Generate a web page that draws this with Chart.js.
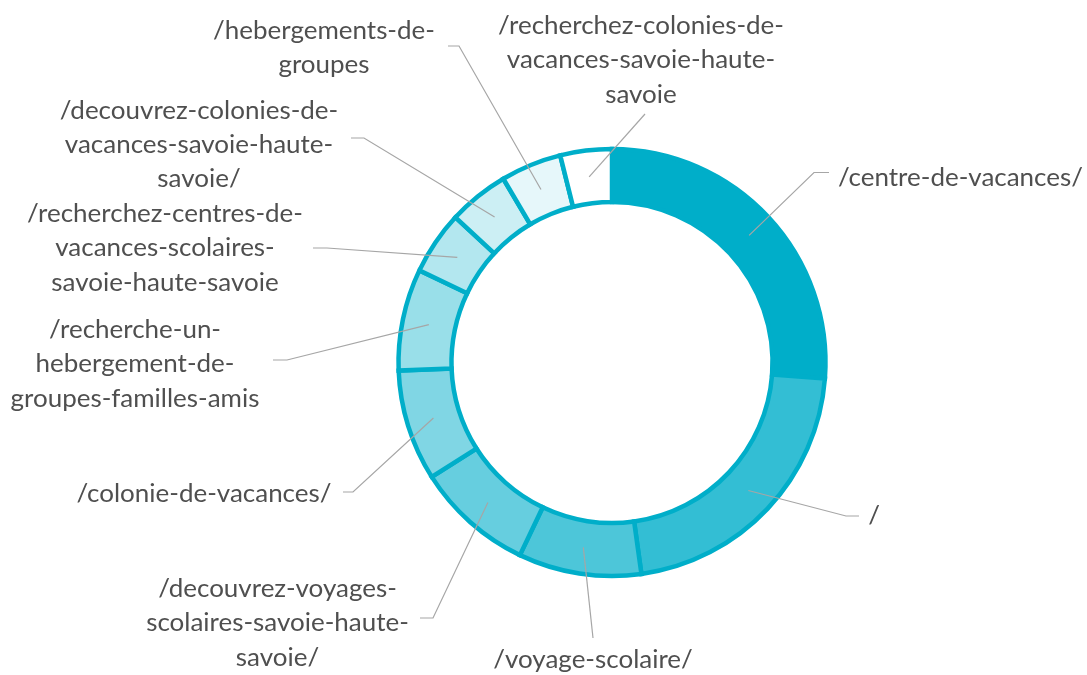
<!DOCTYPE html>
<html>
<head>
<meta charset="utf-8">
<script src="https://cdn.jsdelivr.net/npm/chart.js@4"></script>
<style>
  html, body { margin: 0; padding: 0; background: #ffffff; }
  canvas { display: block; }
</style>
</head>
<body>
<canvas id="c" width="1087" height="675"></canvas>
<script>
// ---- data ----
const categories = [
  "/centre-de-vacances/",
  "/",
  "/voyage-scolaire/",
  "/decouvrez-voyages-scolaires-savoie-haute-savoie/",
  "/colonie-de-vacances/",
  "/recherche-un-hebergement-de-groupes-familles-amis",
  "/recherchez-centres-de-vacances-scolaires-savoie-haute-savoie",
  "/decouvrez-colonies-de-vacances-savoie-haute-savoie/",
  "/hebergements-de-groupes",
  "/recherchez-colonies-de-vacances-savoie-haute-savoie"
];
const values = [26.2, 21.6, 9.3, 8.9, 8.4, 7.7, 4.8, 4.6, 4.6, 3.9];

// ---- styles ----
const fillColors = ['#00AEC9','#33BED4','#4DC6D9','#66CEDF','#80D6E4','#99DFE9','#B3E7EF','#CCEFF4','#E6F7FA','#FFFFFF'];
const ringBorder = '#00AEC9';
const textColor = '#4F4F4F';
const leaderColor = '#A6A6A6';

// ---- label layout (wrap lengths, text centre x, first baseline, elbow, end of leader) ----
const labelWrap = [[], [], [], [19, 23], [], [14, 15], [23, 19], [23, 22], [17], [24, 22]];
const labelPos = [
  { cx: 960.5, base: 186,   elbow: [814, 172.5], end: [829, 172.5] },
  { cx: 874,   base: 524,   elbow: [846, 516],   end: [859, 516] },
  { cx: 593,   base: 668,   elbow: null,         end: [593, 638] },
  { cx: 277.5, base: 597,   elbow: [433, 618],   end: [420, 618] },
  { cx: 204,   base: 502,   elbow: [353, 492],   end: [343, 492] },
  { cx: 135,   base: 338,   elbow: [287, 360],   end: [273, 360] },
  { cx: 165,   base: 222,   elbow: [327, 248],   end: [313, 248] },
  { cx: 199,   base: 118.5, elbow: [364, 138],   end: [351, 138] },
  { cx: 324,   base: 38.5,  elbow: [459, 46],    end: [448, 46] },
  { cx: 641,   base: 34,    elbow: null,         end: [645, 114] }
];
const lineStep = 34.3;
const fontFamily = 'Lato, "Open Sans", sans-serif';

function splitLines(text, wrap) {
  const out = [];
  let pos = 0;
  wrap.forEach(n => { out.push(text.slice(pos, pos + n)); pos += n; });
  out.push(text.slice(pos));
  return out;
}

// font size fitted so that "/centre-de-vacances/" spans ~245px like the reference
const mctx = document.createElement('canvas').getContext('2d');
mctx.font = '100px ' + fontFamily;
const fontSize = 100 * 245 / mctx.measureText(categories[0]).width;

const leaderPlugin = {
  id: 'leaders',
  afterDatasetsDraw(chart) {
    const ctx = chart.ctx;
    const arcs = chart.getDatasetMeta(0).data;
    ctx.save();
    ctx.strokeStyle = leaderColor;
    ctx.lineWidth = 1.2;
    arcs.forEach((arc, i) => {
      const p = arc.getProps(['x', 'y', 'startAngle', 'endAngle', 'innerRadius', 'outerRadius'], true);
      const mid = (p.startAngle + p.endAngle) / 2;
      const r = (p.innerRadius + p.outerRadius) / 2;
      const ax = p.x + Math.cos(mid) * r;
      const ay = p.y + Math.sin(mid) * r;
      const L = labelPos[i];
      ctx.beginPath();
      ctx.moveTo(ax, ay);
      if (L.elbow) ctx.lineTo(L.elbow[0], L.elbow[1]);
      ctx.lineTo(L.end[0], L.end[1]);
      ctx.stroke();
    });
    ctx.fillStyle = textColor;
    ctx.font = fontSize.toFixed(2) + 'px ' + fontFamily;
    ctx.textAlign = 'center';
    ctx.textBaseline = 'alphabetic';
    categories.forEach((cat, i) => {
      const L = labelPos[i];
      splitLines(cat, labelWrap[i]).forEach((line, k) => {
        ctx.fillText(line, L.cx, L.base + k * lineStep);
      });
    });
    ctx.restore();
  }
};

new Chart(document.getElementById('c'), {
  type: 'doughnut',
  data: {
    labels: categories,
    datasets: [{
      data: values,
      backgroundColor: fillColors,
      borderColor: ringBorder,
      borderWidth: 4.5,
      borderAlign: 'center',
      borderJoinStyle: 'miter',
      hoverOffset: 0
    }]
  },
  options: {
    responsive: false,
    animation: false,
    radius: 213.5,
    cutout: '75.2%',
    rotation: 0,
    circumference: 360,
    layout: { padding: { left: 137, top: 50, right: 0, bottom: 0 } },
    plugins: { legend: { display: false }, tooltip: { enabled: false } },
    events: []
  },
  plugins: [leaderPlugin]
});
</script>
</body>
</html>
